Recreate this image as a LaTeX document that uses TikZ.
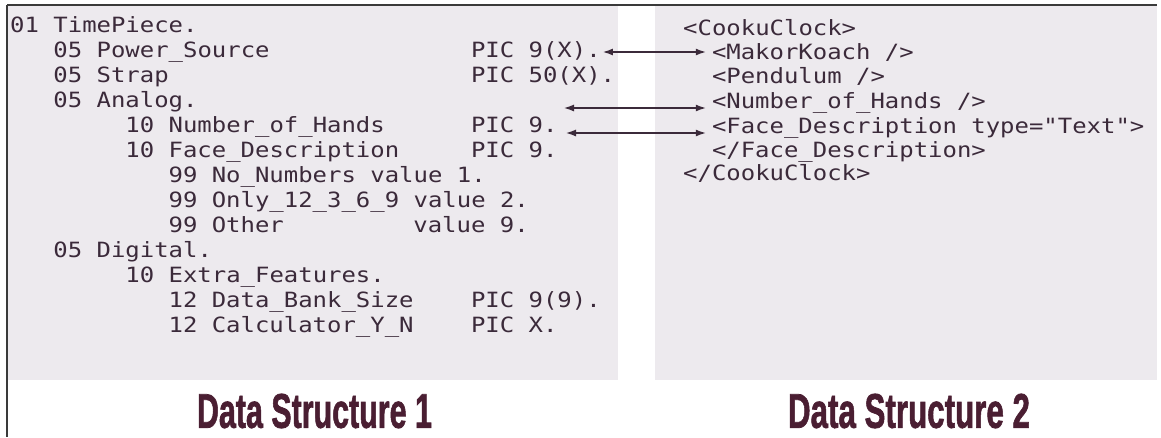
\documentclass[tikz,border=0pt]{standalone}
\usepackage{fontspec}
\usepackage{graphicx}
\usetikzlibrary{arrows.meta}
\newfontfamily\codefont[FakeStretch=1.14]{DejaVu Sans Mono}
\newfontfamily\titlefont[FakeBold=1.6]{Liberation Sans}
\definecolor{ink}{HTML}{3B2A3A}
\definecolor{titleink}{HTML}{4A1E32}
\definecolor{panel}{HTML}{EDEAEE}
\definecolor{framec}{HTML}{3A3A3A}
\tikzset{
  code/.style={anchor=west, inner sep=0pt, text height=15pt, text depth=4pt,
    font=\codefont\fontsize{21}{25}\selectfont, text=ink},
  dbl/.style={draw=ink, line width=2.6pt, {Latex[length=11pt,width=7pt]}-{Latex[length=11pt,width=7pt]}},
  title/.style={inner sep=0pt, text=titleink, font=\titlefont\bfseries}
}
\begin{document}
\begin{tikzpicture}[x=1pt, y=-1pt]
\useasboundingbox (0,0) rectangle (1161,437);
\fill[white] (0,0) rectangle (1161,437);
% panels
\fill[panel] (8,6) rectangle (618,380);
\fill[panel] (655,6) rectangle (1157,380);
% frame
\draw[framec, line width=1.5pt] (7,5) -- (1157,5);
\draw[framec, line width=1.5pt] (7,5) -- (7,437);
% left column text: x = 10 + col*14.4 ; y = 27 + 25*i
\node[code] (l0)  at (10.0,27)  {01 TimePiece.};
\node[code] (l1)  at (53.2,52)  {05 Power\_Source};
\node[code] (pic1) at (470.8,52) {PIC 9(X).};
\node[code] (l2)  at (53.2,77)  {05 Strap};
\node[code] (pic2) at (470.8,77) {PIC 50(X).};
\node[code] (l3)  at (53.2,102) {05 Analog.};
\node[code] (l4)  at (125.2,127) {10 Number\_of\_Hands};
\node[code] (pic4) at (470.8,127) {PIC 9.};
\node[code] (l5)  at (125.2,152) {10 Face\_Description};
\node[code] (pic5) at (470.8,152) {PIC 9.};
\node[code] (l6)  at (168.4,177) {99 No\_Numbers value 1.};
\node[code] (l7)  at (168.4,202) {99 Only\_12\_3\_6\_9 value 2.};
\node[code] (l8)  at (168.4,227) {99 Other};
\node[code] (v8)  at (413.2,227) {value 9.};
\node[code] (l9)  at (53.2,252) {05 Digital.};
\node[code] (l10) at (125.2,277) {10 Extra\_Features.};
\node[code] (l11) at (168.4,302) {12 Data\_Bank\_Size};
\node[code] (pic11) at (470.8,302) {PIC 9(9).};
\node[code] (l12) at (168.4,327) {12 Calculator\_Y\_N};
\node[code] (pic12) at (470.8,327) {PIC X.};
% right column text: x = 683 + col*14.4 ; y = 30 + 24*i
\node[code] (cc)  at (683.0,30)  {<CookuClock>};
\node[code] (mk)  at (711.8,54)  {<MakorKoach />};
\node[code] (pe)  at (711.8,78)  {<Pendulum />};
\node[code] (nh)  at (711.8,103) {<Number\_of\_Hands />};
\node[code] (fd)  at (711.8,128) {<Face\_Description type="Text">};
\node[code] (fdc) at (711.8,152) {</Face\_Description>};
\node[code] (ccc) at (683.0,175) {</CookuClock>};
% arrows
\coordinate (a2) at (563,108);
\coordinate (a3) at (565,133);
\draw[dbl, shorten <=1pt, shorten >=5pt] (pic1.east) -- (pic1.east -| mk.west);
\draw[dbl, shorten >=5pt] (a2) -- (a2 -| nh.west);
\draw[dbl, shorten >=5pt] (a3) -- (a3 -| fd.west);
% titles
\node[title] (t1) at (314.5,411) {\resizebox{235pt}{34pt}{Data Structure 1}};
\node[title] (t2) at (909,411) {\resizebox{242pt}{34pt}{Data Structure 2}};
\end{tikzpicture}
\end{document}
